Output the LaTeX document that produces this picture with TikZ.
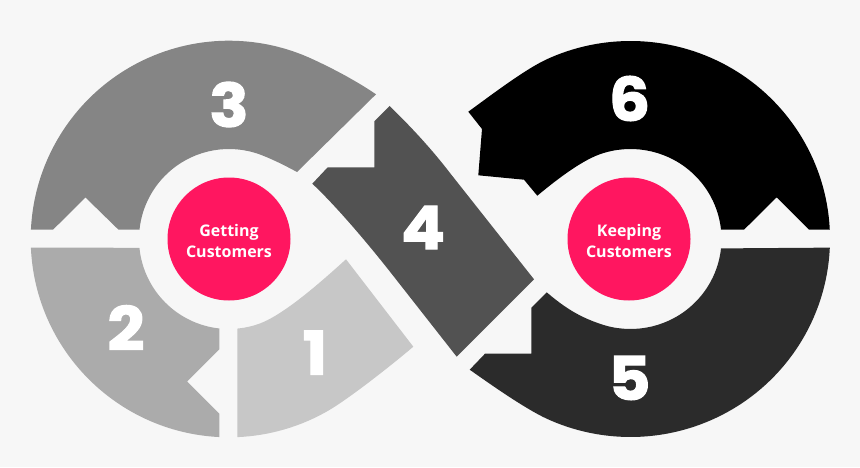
\documentclass[tikz,border=0pt]{standalone}
\usepackage{fontspec}
\setmainfont{Open Sans}
\newfontfamily\numfont[BoldFeatures={FakeBold=2,FakeStretch=1.08}]{Poppins}
\definecolor{pagebg}{HTML}{F7F7F7}
\definecolor{hotpink}{HTML}{FF1660}
\tikzset{
  segone/.style={fill=black!22},
  segtwo/.style={fill=black!33},
  segthree/.style={fill=black!48},
  segfour/.style={fill=black!68},
  segfive/.style={fill=black!83},
  segsix/.style={fill=black},
  number/.style={
    % The text:
    text=white,
    font=\numfont\bfseries\fontsize{60}{60}\selectfont,
    inner sep=0pt},
  hub/.style={
    % The shape:
    circle,
    minimum size=123pt,
    inner sep=0pt,
    % The rest
    fill=hotpink,text=white,align=center,
    font=\bfseries\fontsize{16}{21.7}\selectfont}
}
\begin{document}
\begin{tikzpicture}[x=1pt,y=1pt]
  \useasboundingbox[fill=pagebg] (0,0) rectangle (860,467);
  \coordinate (cl) at (229,228);
  \coordinate (cr) at (630.5,228);

  % left loop
  \fill[segthree] ([shift={(177.3:198.3pt)}]cl) arc[start angle=177.3,end angle=65,radius=198.3pt]
    .. controls (335,397.5) and (358,385) .. (376,372.7) -- (297,295)
    .. controls (284,302) and (272,308) .. ([shift={(70:90pt)}]cl) arc[start angle=70,end angle=174,radius=90pt]
    -- (118.5,237.3) -- (85.5,269.5) -- (53,237.3) -- cycle;
  \fill[segtwo] ([shift={(182.5:198.3pt)}]cl) arc[start angle=182.5,end angle=267.2,radius=198.3pt]
    -- (219.3,53.3) -- (187,85.5) -- (219.3,117.7)
    -- ([shift={(263.8:90pt)}]cl) arc[start angle=263.8,end angle=185.6,radius=90pt] -- cycle;
  \fill[segone] ([shift={(272.4:198.3pt)}]cl) arc[start angle=272.4,end angle=300,radius=198.3pt]
    .. controls (350,69) and (393,103) .. (413.3,120.3) -- (346,207.7)
    .. controls (322,186) and (285,153) .. ([shift={(290:90pt)}]cl)
    arc[start angle=290,end angle=275.3,radius=90pt] -- cycle;

  % the crossing
  \fill[segfour] (389.7,361) -- (374.3,345.7) -- (374.3,299.7) -- (327.7,299.7) -- (312.3,283.3)
    .. controls (335,262) and (365,227) .. (390,195.3) -- (456.7,110.3) -- (534,187.7) -- (450,294)
    .. controls (430,320) and (410,341) .. cycle;

  % right loop
  \fill[segfive] ([shift={(357.5:199.5pt and 198pt)}]cr) arc[start angle=357.5,end angle=245,x radius=199.5pt,y radius=198pt]
    .. controls (524,59) and (490,83) .. (469.7,97.3) -- (485,113.3) -- (531.3,113.3) -- (531.3,159.3) -- (546.7,174.7)
    .. controls (565,159) and (580,150) .. ([shift={(250:91pt and 90pt)}]cr) arc[start angle=250,end angle=354,x radius=91pt,y radius=90pt] -- cycle;
  \fill[segsix] ([shift={(2.7:199.5pt and 198pt)}]cr) arc[start angle=2.7,end angle=115,x radius=199.5pt,y radius=198pt]
    .. controls (524,397) and (490,371) .. (468.3,355.3) -- (482,338) -- (478.3,291.7) -- (524,287.3) -- (537.3,271.3)
    .. controls (555,286) and (580,305.5) .. ([shift={(110:91pt and 90pt)}]cr) arc[start angle=110,end angle=6,x radius=91pt,y radius=90pt]
    -- (744,237.3) -- (776.7,269.7) -- (809,237.3) -- cycle;

  \node (hubleft) [hub] at (229,228) {\rule{0pt}{16pt}Getting\\Customers};
  \node (hubright) [hub] at (629,228) {\rule{0pt}{16pt}Keeping\\Customers};

  \node (numone) [number] at (315,114.5) {1};
  \node (numtwo) [number] at (126,139.3) {2};
  \node (numthree) [number] at (229,362.5) {3};
  \node (numfour) [number] at (423,239.5) {4};
  \node (numfive) [number] at (629.5,89) {5};
  \node (numsix) [number] at (629.5,368.5) {6};
\end{tikzpicture}
\end{document}
